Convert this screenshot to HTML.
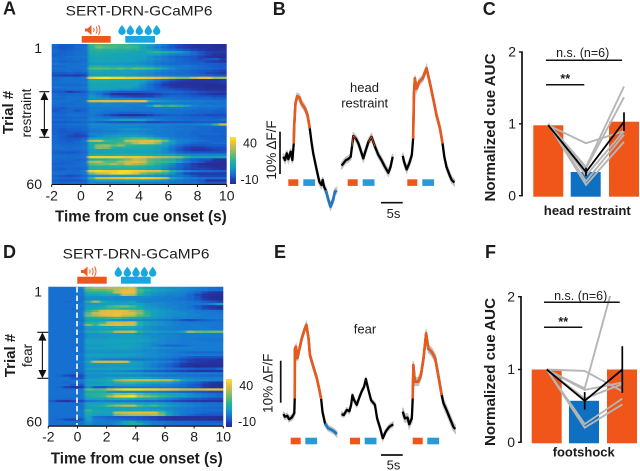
<!DOCTYPE html>
<html>
<head>
<meta charset="utf-8">
<title>SERT-DRN-GCaMP6 cue responses</title>
<style>
html,body{margin:0;padding:0;background:#fff;}
svg{display:block;font-family:"Liberation Sans",sans-serif;}
text{fill:#1c1c1c;}
.b{font-weight:bold;}
</style>
</head>
<body>
<svg id="fig" width="640" height="471" viewBox="0 0 640 471" xmlns="http://www.w3.org/2000/svg">
<defs>
<filter id="soft" x="-2%" y="-2%" width="104%" height="104%"><feGaussianBlur stdDeviation="1.4 0.3"/></filter>
<clipPath id="clipA"><rect x="51.7" y="44" width="175" height="140"/></clipPath>
<clipPath id="clipD"><rect x="48.3" y="286.7" width="175" height="138.6"/></clipPath>
<clipPath id="clipF"><rect x="525" y="296" width="115" height="150"/></clipPath>
<linearGradient id="cbar" x1="0" y1="1" x2="0" y2="0"></linearGradient>
</defs>

<g id="panelA">
<text class="b" x="3" y="14.500" font-size="18">A</text>
<text x="65.700" y="15.700" font-size="14" textLength="146.700" lengthAdjust="spacingAndGlyphs">SERT-DRN-GCaMP6</text>
<g id="heatA" clip-path="url(#clipA)"></g>
<path d="M85 28.500h2.500l4-3.500v10l-4-3.500H85z" fill="#ee5a24"/>
<path d="M93.500 28q1.300 2 0 4M96 26.500q2.200 3.500 0 7M98.500 25q3 5 0 10" fill="none" stroke="#ee5a24" stroke-width="1"/>
<rect x="81.700" y="36" width="29" height="6.700" fill="#f0561a"/>
<rect x="125.300" y="36" width="29.700" height="6.700" fill="#19a7df"/>
<g fill="#19a7df">
<path d="M122 25q-3.700 4.500-3.700 6.300a3.700 3.700 0 0 0 7.400 0q0-1.800-3.700-6.300z"/>
<path d="M130.300 25q-3.700 4.500-3.700 6.300a3.700 3.700 0 0 0 7.400 0q0-1.800-3.700-6.300z"/>
<path d="M139.300 25q-3.700 4.500-3.700 6.300a3.700 3.700 0 0 0 7.400 0q0-1.800-3.700-6.300z"/>
<path d="M148.300 25q-3.700 4.500-3.700 6.300a3.700 3.700 0 0 0 7.400 0q0-1.800-3.700-6.300z"/>
<path d="M156.700 25q-3.700 4.500-3.700 6.300a3.700 3.700 0 0 0 7.400 0q0-1.800-3.700-6.300z"/>
</g>
<text x="42" y="53" font-size="14" text-anchor="end">1</text>
<text x="42" y="189" font-size="14" text-anchor="end">60</text>
<text class="b" transform="translate(13,112.500) rotate(-90)" font-size="15" text-anchor="middle">Trial #</text>
<text transform="translate(31,113) rotate(-90)" font-size="13.500" text-anchor="middle">restraint</text>
<g>
<path d="M39.300 91.700h10M39.300 137.300h10M44.400 95v38" stroke="#111" stroke-width="1.100" fill="none"/>
<path d="M44.400 91.700l-4 8.300h8zM44.400 137.300l-4-8.300h8z" fill="#111"/>
</g>
<g id="axisA"></g>
<text class="b" x="55" y="221.700" font-size="15.500" textLength="171.700" lengthAdjust="spacingAndGlyphs">Time from cue onset (s)</text>
<rect x="230" y="137" width="6" height="47" fill="url(#cbar)"/>
<text x="243" y="147.500" font-size="12.500">40</text>
<text x="240.500" y="184" font-size="12.500">-10</text>
</g>

<g id="panelD">
<text class="b" x="3" y="258" font-size="18">D</text>
<text x="62.700" y="258.300" font-size="14" textLength="146.700" lengthAdjust="spacingAndGlyphs">SERT-DRN-GCaMP6</text>
<g id="heatD" clip-path="url(#clipD)"></g>
<line x1="77" y1="287" x2="77" y2="425" stroke="#fff" stroke-width="1.600" stroke-dasharray="5.500 3"/>
<path d="M81 270h2.500l4-3.500v10l-4-3.500H81z" fill="#ee5a24"/>
<path d="M89.500 269.500q1.300 2 0 4M92 268q2.200 3.500 0 7M94.500 266.500q3 5 0 10" fill="none" stroke="#ee5a24" stroke-width="1"/>
<rect x="77.300" y="276.700" width="29.400" height="7" fill="#f0561a"/>
<rect x="121" y="276.700" width="29.700" height="7" fill="#19a7df"/>
<g fill="#19a7df">
<path d="M118.300 266.700q-3.700 4.500-3.700 6.300a3.700 3.700 0 0 0 7.400 0q0-1.800-3.700-6.300z"/>
<path d="M127.300 266.700q-3.700 4.500-3.700 6.300a3.700 3.700 0 0 0 7.400 0q0-1.800-3.700-6.300z"/>
<path d="M136 266.700q-3.700 4.500-3.700 6.300a3.700 3.700 0 0 0 7.400 0q0-1.800-3.700-6.300z"/>
<path d="M144.300 266.700q-3.700 4.500-3.700 6.300a3.700 3.700 0 0 0 7.400 0q0-1.800-3.700-6.300z"/>
<path d="M152.700 266.700q-3.700 4.500-3.700 6.300a3.700 3.700 0 0 0 7.400 0q0-1.800-3.700-6.300z"/>
</g>
<text x="42" y="296.500" font-size="14" text-anchor="end">1</text>
<text x="42" y="426.500" font-size="14" text-anchor="end">60</text>
<text class="b" transform="translate(15,355.500) rotate(-90)" font-size="15" text-anchor="middle">Trial #</text>
<text transform="translate(32,355.500) rotate(-90)" font-size="13.500" text-anchor="middle">fear</text>
<g>
<path d="M37.300 332.300h11M37.300 378.300h11M42.400 336v38" stroke="#111" stroke-width="1.100" fill="none"/>
<path d="M42.400 332.300l-4 8.300h8zM42.400 378.300l-4-8.300h8z" fill="#111"/>
</g>
<g id="axisD"></g>
<text class="b" x="50.700" y="463.300" font-size="15.500" textLength="172" lengthAdjust="spacingAndGlyphs">Time from cue onset (s)</text>
<rect x="226" y="379" width="6" height="48" fill="url(#cbar)"/>
<text x="239.300" y="390" font-size="12.500">40</text>
<text x="238" y="426" font-size="12.500">-10</text>
</g>

<g id="panelB">
<text class="b" x="272.700" y="15" font-size="18">B</text>
<text x="364.500" y="92" font-size="13" text-anchor="middle">head</text>
<text x="364.700" y="107.700" font-size="13" text-anchor="middle">restraint</text>
<text transform="translate(276,150) rotate(-90)" font-size="13.500" text-anchor="middle">10% ΔF/F</text>
<line x1="280" y1="131.700" x2="280" y2="174" stroke="#111" stroke-width="1.700"/>
<line x1="381" y1="202.700" x2="402.700" y2="202.700" stroke="#111" stroke-width="1.700"/>
<text x="393.500" y="218" font-size="13" text-anchor="middle">5s</text>
<g id="tracesB"></g>
</g>

<g id="panelE">
<text class="b" x="274" y="258" font-size="18">E</text>
<text x="365" y="333.300" font-size="13" text-anchor="middle">fear</text>
<text transform="translate(272.700,383.300) rotate(-90)" font-size="13.500" text-anchor="middle">10% ΔF/F</text>
<line x1="280.700" y1="360.700" x2="280.700" y2="402.700" stroke="#111" stroke-width="1.700"/>
<line x1="381" y1="455" x2="402.700" y2="455" stroke="#111" stroke-width="1.700"/>
<text x="393.500" y="469.300" font-size="13" text-anchor="middle">5s</text>
<g id="tracesE"></g>
</g>

<g id="panelC">
<text class="b" x="482.700" y="15" font-size="18">C</text>
<text class="b" transform="translate(495,127.500) rotate(-90)" font-size="14.500" text-anchor="middle" textLength="148" lengthAdjust="spacingAndGlyphs">Normalized cue AUC</text>
<g id="barsC"></g>
<line x1="546" y1="60.300" x2="622" y2="60.300" stroke="#111" stroke-width="1.500"/>
<line x1="546" y1="84.700" x2="584.300" y2="84.700" stroke="#111" stroke-width="1.500"/>
<text x="582.700" y="57" font-size="12.500" text-anchor="middle">n.s. (n=6)</text>
<text x="565.300" y="83" font-size="12.500" text-anchor="middle" class="b">**</text>
<text class="b" x="587.300" y="215" font-size="13" text-anchor="middle" textLength="87" lengthAdjust="spacingAndGlyphs">head restraint</text>
</g>

<g id="panelF">
<text class="b" x="485" y="258" font-size="18">F</text>
<text class="b" transform="translate(495,372) rotate(-90)" font-size="14.500" text-anchor="middle" textLength="148" lengthAdjust="spacingAndGlyphs">Normalized cue AUC</text>
<g id="barsF"></g>
<line x1="544" y1="302.300" x2="619.700" y2="302.300" stroke="#111" stroke-width="1.500"/>
<line x1="544" y1="327.300" x2="582.300" y2="327.300" stroke="#111" stroke-width="1.500"/>
<text x="580.700" y="300" font-size="12.500" text-anchor="middle">n.s. (n=6)</text>
<text x="563.300" y="326" font-size="12.500" text-anchor="middle" class="b">**</text>
<text class="b" x="583.700" y="456.700" font-size="13" text-anchor="middle" textLength="62" lengthAdjust="spacingAndGlyphs">footshock</text>
</g>
</svg>

<script>
/* ---------- heatmap data: trials x 0.5 s time bins, values in colour-scale units ---------- */
const xTicks = [-2, 0, 2, 4, 6, 8, 10];
const binStarts = [-2,-1.5,-1,-0.5,0,0.5,1,1.5,2,2.5,3,3.5,4,4.5,5,5.5,6,6.5,7,7.5,8,8.5,9,9.5];
const heatA = [
[0,-2,-2,0,0,16,20,18,18,17,16,15,12,8,5,2,-2,-4,-6,-7,-8,-8,-8,-9],
[-1,-3,-2,0,1,15,23,19,19,16,18,16,10,6,3,0,-3,-5,-6,-7,-8,-8,-9,-9],
[0,-2,-1,0,1,14,15,14,14,13,13,13,11,8,6,3,1,-1,-3,-5,-6,-7,-8,-8],
[0,-1,0,1,1,12,13,12,12,11,11,10,9,13,15,13,10,7,4,0,-3,-5,-6,-6],
[-1,-1,0,1,1,11,11,11,10,10,9,9,9,9,8,6,4,3,2,0,-3,-5,-7,-8],
[0,0,1,1,2,10,11,10,10,9,9,8,8,6,4,2,0,-1,-2,-3,-5,-7,-8,-9],
[1,0,0,1,1,10,10,10,10,9,9,8,8,6,5,3,1,0,-1,-3,-4,-3,-2,-6],
[0,-1,0,0,1,9,9,9,9,8,8,7,6,5,3,2,1,0,-1,-2,-3,-5,-6,-7],
[2,1,1,1,2,7,7,7,7,7,6,6,5,4,2,1,0,0,0,-1,-1,-2,-2,-3],
[0,0,1,1,1,13,14,12,12,11,10,10,9,7,5,4,3,2,2,1,0,-1,-2,-3],
[1,1,1,1,2,18,20,19,17,20,17,21,19,18,14,8,5,3,2,1,0,0,-1,-2],
[0,0,1,0,1,11,11,10,10,9,8,8,7,6,5,3,2,1,0,-1,-2,-3,-4,-5],
[-2,-2,-1,-2,-1,9,9,9,8,8,8,7,6,5,3,2,1,0,0,-1,-2,-4,-5,-6],
[-4,-5,-5,-6,-5,8,8,8,8,8,7,7,6,5,4,3,2,1,1,0,0,-1,-2,-3],
[0,1,1,1,2,36,39,40,38,38,36,36,35,34,33,30,26,23,22,28,33,34,25,26],
[0,1,1,1,1,12,12,12,12,11,11,10,9,6,3,0,-3,-5,-6,-7,-7,-7,-7,-6],
[1,1,1,1,2,11,11,11,10,10,9,9,7,3,0,-4,-6,-7,-8,-8,-8,-8,-7,-6],
[0,0,0,0,1,10,10,10,10,9,9,8,5,1,-3,-6,-7,-8,-8,-8,-8,-9,-9,-8],
[2,1,1,1,2,10,10,10,9,9,9,7,4,1,-2,-4,-6,-7,-7,-8,-8,-9,-9,-9],
[0,0,1,1,1,8,8,8,7,6,6,5,3,1,-1,-2,-3,-4,-5,-6,-7,-8,-8,-8],
[-2,-3,-6,-4,-2,4,3,1,-1,-2,-2,-2,-2,-2,-1,0,0,-1,-2,-3,-4,-5,-5,-6],
[0,-1,0,0,0,5,2,-3,-7,-8,-8,-8,-7,-6,-5,-3,-2,-2,-3,-4,-5,-6,-7,-7],
[1,0,1,1,1,7,5,2,-2,-3,-4,-5,-5,-5,-3,-1,0,0,-1,-2,-3,-3,-4,-4],
[0,0,1,1,1,6,6,6,5,5,5,4,4,3,3,2,2,1,1,0,0,0,-1,-1],
[1,1,1,0,1,30,31,32,31,30,32,31,33,12,7,6,5,4,4,3,3,2,2,1],
[1,0,0,1,1,4,4,5,4,4,4,4,3,2,2,3,3,3,2,2,2,1,1,1],
[0,0,1,1,1,4,4,4,4,4,3,3,3,7,20,14,17,14,8,4,3,3,2,2],
[-1,-2,0,0,0,3,3,3,3,3,3,2,2,2,3,3,3,3,2,2,1,1,1,0],
[-3,-1,0,-3,-1,3,3,2,2,2,2,2,2,2,2,2,1,1,1,0,0,0,-1,-1],
[-1,-1,0,0,0,3,2,1,0,-1,-1,-1,0,0,1,1,1,1,0,0,-1,-1,-2,-2],
[0,0,1,1,1,2,0,-3,-5,-7,-8,-8,-7,-5,-3,-2,-1,-1,-2,-3,-3,-4,-4,-4],
[-1,-1,0,0,0,3,2,1,1,0,0,0,0,1,1,1,1,0,0,-1,-1,-1,-2,-2],
[0,0,0,1,1,4,4,5,7,9,10,10,8,5,3,2,1,1,0,0,0,0,0,1],
[-2,-2,-1,-1,0,1,0,-1,-2,-3,-3,-3,-3,-4,-4,-3,-3,-3,-3,-2,-2,-2,-2,-2],
[0,0,1,1,1,5,5,5,5,5,5,5,5,4,4,4,3,3,3,3,4,5,16,30],
[-1,-1,0,0,0,4,4,4,4,4,4,4,3,3,3,2,2,1,1,1,0,0,0,0],
[-1,-2,-1,-1,0,3,3,4,4,5,6,6,5,4,3,3,2,2,1,1,0,0,-1,-1],
[-1,-3,-2,-2,-1,2,3,3,3,4,4,4,4,3,3,2,2,1,1,0,0,0,-1,-1],
[-1,-2,-3,-4,-3,4,4,5,5,6,6,6,5,4,3,3,2,1,1,0,0,0,0,-1],
[0,-2,-4,-5,-4,3,5,6,7,8,8,8,7,6,4,3,2,1,1,0,-1,-1,-1,-2],
[0,-2,-3,-3,-1,8,9,10,11,14,18,20,20,16,12,7,4,3,2,1,0,-1,-1,-1],
[0,-1,-2,-1,2,26,28,16,15,15,28,30,32,33,30,21,8,4,3,2,1,0,-1,-1],
[0,-1,-1,0,1,12,13,14,15,18,20,27,33,31,24,11,7,4,2,0,-1,-1,0,0],
[1,0,0,0,1,12,24,26,20,24,15,14,13,13,11,8,4,1,-2,-3,-3,-2,-2,-2],
[1,1,0,1,2,11,24,22,14,13,13,12,12,11,9,6,2,-2,-5,-6,-6,-5,-4,-4],
[0,0,0,0,1,9,10,10,10,10,10,10,10,9,8,5,1,-3,-5,-7,-7,-6,-5,-4],
[-1,-2,-3,-2,0,8,8,8,9,9,9,9,9,8,7,5,3,0,-2,-3,-3,-3,-3,-3],
[0,0,0,0,1,12,13,13,13,14,14,14,13,12,11,9,8,6,5,4,4,4,4,4],
[1,1,0,1,2,36,37,36,36,36,34,35,34,32,28,26,24,22,14,10,9,8,8,9],
[0,0,0,-1,0,12,14,14,16,18,22,28,26,19,17,14,12,6,2,-1,-3,-3,-7,-8],
[0,-1,-1,0,1,26,28,20,20,26,30,33,30,20,17,16,14,8,3,-1,-3,-6,-8,-8],
[-1,-1,-1,0,1,20,22,22,26,22,30,26,24,18,14,10,5,0,-3,-6,-8,-9,-9,-9],
[0,0,0,0,1,13,14,14,15,15,15,15,14,12,9,6,3,0,-3,-5,-7,-8,-9,-8],
[-1,-2,-1,-1,0,12,13,13,13,13,13,12,11,10,8,5,1,-1,-4,-5,-5,-6,-7,-8],
[0,0,0,0,3,36,38,36,36,38,38,36,35,33,33,24,13,8,4,2,0,0,-1,-2],
[1,1,0,0,2,22,30,32,36,38,36,33,22,18,15,12,6,1,-4,-6,-6,-6,-6,-6],
[-1,-3,-4,-3,0,5,6,6,7,7,7,7,7,7,6,5,3,2,0,-3,-5,-5,-5,-5],
[0,-1,-1,0,2,16,30,30,32,33,34,34,36,35,33,28,10,6,3,2,1,0,0,0],
[-1,-3,-3,-3,-1,6,8,8,9,10,10,10,9,8,7,5,3,2,1,0,-2,-8,-8,-8],
[0,-1,0,0,0,5,4,4,4,4,5,5,4,4,3,3,2,2,1,1,-1,-3,-3,-3]
];
const heatD = [
[1,1,1,1,3,22,26,26,27,27,29,32,14,10,8,7,6,6,5,4,3,2,1,0],
[1,1,1,1,2,18,20,20,22,28,33,33,18,14,10,8,7,6,5,4,2,2,1,1],
[1,1,1,1,2,13,14,15,17,30,34,34,17,9,7,6,5,5,4,2,0,-4,-6,-7],
[1,1,1,1,2,10,10,11,11,12,30,28,13,8,6,5,4,4,3,0,-4,-7,-8,-8],
[1,1,1,1,1,6,6,6,6,5,5,5,5,5,4,4,3,3,2,0,-3,-7,-9,-9],
[1,1,1,1,1,5,5,5,5,5,5,5,5,4,4,3,3,2,1,0,-2,-6,-8,-9],
[1,1,0,1,1,14,26,12,8,7,7,8,5,4,4,4,3,3,3,2,1,-1,-3,-5],
[1,1,1,1,2,7,7,8,8,8,9,9,8,6,5,5,4,3,3,2,2,2,4,8],
[1,1,1,1,2,9,9,11,17,20,22,18,12,7,6,5,4,4,3,1,-2,-5,-7,-7],
[1,1,1,0,1,10,11,14,16,16,14,14,12,8,7,6,5,4,3,2,-1,-4,-6,-7],
[1,1,1,1,2,14,20,31,33,33,32,26,22,12,8,7,6,5,4,4,3,2,2,1],
[1,1,1,1,2,20,30,33,33,34,33,32,24,14,9,7,6,5,5,4,3,3,2,2],
[1,1,1,1,2,22,26,31,33,34,30,28,20,16,9,7,6,5,5,4,4,3,3,3],
[1,1,1,1,2,12,13,14,16,18,15,12,10,8,7,6,5,4,4,4,3,3,3,3],
[1,1,1,1,1,8,8,8,7,6,5,5,5,4,4,3,2,0,-3,-4,-3,-1,0,1],
[1,1,1,1,2,13,14,16,28,30,30,32,14,9,7,6,5,4,3,3,3,2,2,2],
[1,1,1,1,2,23,16,26,31,33,31,30,14,9,7,6,5,4,3,3,3,3,3,2],
[1,1,1,1,1,8,8,9,10,12,12,12,9,6,5,4,4,3,3,3,3,3,2,2],
[1,1,1,1,1,7,7,8,8,8,8,8,7,6,5,4,4,3,3,3,3,3,3,2],
[1,1,1,1,2,11,12,14,16,28,29,30,14,9,8,7,6,6,10,26,22,20,22,22],
[1,1,1,1,1,6,6,7,7,7,7,7,6,5,5,4,4,3,3,3,3,3,3,3],
[1,1,1,1,1,6,6,6,7,7,8,8,7,6,5,5,4,4,3,3,3,3,3,3],
[1,1,1,1,1,7,7,7,8,8,8,8,8,7,6,5,4,4,3,3,2,2,2,2],
[1,1,1,1,1,8,8,9,9,9,10,10,9,8,6,5,4,4,3,3,3,2,2,2],
[1,1,1,1,1,8,8,8,8,8,8,8,7,6,5,5,4,4,3,3,3,3,3,3],
[1,1,1,1,1,7,7,7,8,8,8,8,7,6,4,2,0,0,1,2,3,3,3,3],
[1,1,1,1,1,8,8,8,8,9,9,8,7,6,6,5,5,4,4,4,3,3,3,3],
[1,1,1,1,1,7,7,7,7,7,7,7,6,5,5,4,3,3,3,3,3,3,3,3],
[1,1,1,1,1,6,6,6,6,6,6,6,6,5,5,4,3,2,1,0,0,0,0,0],
[1,1,1,1,2,8,8,8,8,8,8,8,7,6,5,5,4,3,3,3,3,2,2,2],
[1,1,1,1,1,7,7,7,7,7,7,6,6,5,5,4,3,2,0,-2,-3,-3,-3,-3],
[1,1,1,1,1,6,5,3,2,2,2,2,2,2,2,1,0,-2,-4,-5,-6,-6,-6,-7],
[1,1,1,1,2,10,29,31,31,31,30,10,7,6,5,4,3,0,-3,-5,-6,-7,-8,-8],
[1,1,1,1,1,7,7,7,7,8,8,8,7,5,4,2,0,-3,-6,-8,-8,-8,-8,-8],
[1,1,1,1,1,6,6,6,7,7,7,7,6,5,3,1,-1,-4,-7,-8,-9,-9,-9,-8],
[1,1,1,1,1,8,8,8,8,9,9,9,8,6,5,4,2,1,0,-1,-2,-2,-2,0],
[1,1,1,1,1,5,5,5,5,5,4,3,2,0,-1,-2,-3,-4,-5,-6,-7,-7,-7,-7],
[1,1,1,0,0,7,7,7,8,8,8,8,7,6,6,5,4,4,3,3,3,3,2,2],
[1,0,-4,-5,-4,5,5,5,5,5,5,5,5,4,3,3,2,2,2,1,1,0,0,0],
[1,1,1,-2,-3,6,6,7,8,9,10,11,10,8,7,6,5,5,4,4,3,3,3,3],
[1,1,1,1,2,8,9,10,12,24,28,30,30,30,29,28,28,20,8,6,5,5,4,4],
[1,1,0,1,1,7,7,8,10,14,16,16,14,12,11,10,8,5,3,1,-1,-4,-6,-7],
[1,1,1,-2,-3,8,9,9,9,8,8,8,7,6,5,5,4,3,1,-1,-3,-6,-8,-8],
[1,0,-5,-7,-6,5,-2,-3,1,2,3,3,3,3,3,2,2,1,0,-2,-3,-6,-8,-8],
[1,1,1,1,2,20,18,20,30,36,40,40,40,38,38,36,35,34,30,30,31,33,34,34],
[1,1,1,1,2,12,12,13,6,5,5,5,5,4,4,3,2,1,0,-1,-2,-3,-4,-4],
[1,1,1,1,2,14,14,15,18,25,24,26,20,16,14,12,10,8,7,5,3,2,1,0],
[1,1,1,1,2,12,14,16,26,36,38,40,28,24,20,16,14,10,8,6,5,3,2,1],
[1,1,0,1,1,8,9,10,12,14,14,12,11,9,8,6,4,2,0,-1,-2,-3,-4,-4],
[-2,-6,-7,-5,-4,2,3,4,3,2,2,2,1,0,0,-1,-2,-4,-5,-6,-6,-7,-7,-7],
[1,1,1,1,1,8,9,9,10,11,11,10,9,8,8,7,6,5,4,3,2,1,1,1],
[1,1,1,1,1,10,11,13,20,24,27,28,18,14,17,12,8,6,5,4,3,2,1,1],
[1,1,1,1,1,8,8,8,8,8,9,9,8,7,6,6,5,4,3,2,1,0,0,0],
[1,1,1,1,2,16,10,8,8,8,9,10,10,9,9,8,6,4,3,2,1,1,1,1],
[1,1,1,1,2,12,10,10,10,28,30,32,33,33,32,20,8,5,3,2,1,0,-1,-1],
[1,1,1,1,2,12,8,7,7,22,24,26,26,25,27,22,9,5,2,0,-2,-3,-3,-3],
[1,1,1,1,1,8,1,0,-1,-2,-3,-3,-3,-4,-5,-6,-7,-8,-8,-8,-8,-8,-8,-8],
[1,-1,-4,-5,-3,8,3,2,1,1,0,-1,-2,-3,-4,-6,-7,-8,-8,-8,-8,-8,-9,-9],
[1,1,1,1,1,6,3,3,3,4,8,12,6,4,3,2,1,0,0,0,-1,-1,-1,-2],
[1,1,1,1,1,5,3,3,3,5,9,13,11,6,3,2,1,1,0,0,0,0,0,0]
];

/* ---------- photometry traces: time (s) from cue, dF/F (%) ---------- */
const b1Time = [-2.3,-1.9,-1.5,-1.15,-0.6,-0.2,0.1,0.2,0.5,0.9,1.4,1.9,2.7,3.3,3.8,4.2,4.6,5.4,6,6.5,6.8,7.1,7.5,8.1,8.6,9.2,9.6,10];
const b1Value = [0,-0.8,0.8,-0.6,1.2,-0.8,3.1,7.1,12.6,14.3,14,12.6,11.4,9.8,6.7,3.5,0.8,-3.1,-5.9,-6.7,-5.5,-7.1,-7.9,-10.2,-11.8,-10.2,-8.3,-8];
const b2Time = [-2.7,-2.3,-1.7,-1.2,-0.6,-0.3,0,0.6,1.2,1.8,2.3,2.9,3.5,4.2,5,5.8,6.5,7.3,8.1,8.6,9.1];
const b2Value = [-2.1,-1.6,-0.8,-0.6,0,2.4,4.9,4.3,3.1,1.2,-0.4,1.6,3.5,4.7,2.4,0.4,-0.8,-2.4,-3.8,-2.4,0];
const b3Time = [-2.3,-2,-1.4,-0.8,-0.2,0.1,0.3,0.5,0.9,1.5,2.3,3.2,4,4.8,5.5,6.3,6.9,7.3,7.8,8.5,9,9.6];
const b3Value = [0.2,-1.2,-3,-1.6,0.4,4.3,15,18.5,16.1,17.7,18.5,20.9,17.3,13.4,9.8,6.7,3.1,0,-2.4,-4.3,-5.5,-6.1];
const e1Time = [-2.5,-2.2,-1.6,-1.2,-0.6,0,0.1,0.15,0.4,0.7,1.2,1.7,2.3,2.8,3.3,3.6,4.4,5.2,5.8,6.2,6.5,7.1,7.8,8.6,9.2,9.8];
const e1Value = [0.2,-0.4,-0.2,-1,-0.6,0.4,3.9,15.7,16.1,13.4,15.7,18,20,21.3,18,14.2,11.4,8.7,5.9,3.8,0.8,-2,-3.1,-3.5,-3.9,-4.5];
const e2Time = [-2.7,-2.2,-1.5,-0.9,-0.5,-0.2,0.2,0.8,1.3,1.9,2.5,2.9,3.5,4.1,5,5.5,6.2,6.8,7.5,8.3,9.2];
const e2Value = [0.2,0,1.2,0.9,2.4,4.7,3.5,2.4,3.9,5.5,6.7,8.5,5.9,3.5,2.4,-0.8,-3.1,-5.5,-3.9,-2.8,-2.2];
const e3Time = [-2.3,-1.8,-1.2,-0.8,-0.2,0,0.15,0.5,1.3,1.9,2.5,3.1,3.6,4.4,5.2,5.9,6.7,7.1,7.8,8.6,9.4,9.8];
const e3Value = [0.8,-0.8,-0.6,-2.2,-0.8,3.9,11.8,7.9,7.9,9.4,13.4,19.3,15.7,14.9,13.4,9.4,4.7,2.8,1.2,-0.8,-2.8,-3.3];

/* ---------- normalized AUC: tone, water, late tone ---------- */
const conditions = ['cue-1', 'cue-2', 'cue-3'];
const cMeans = [0.98, 0.33, 1.03];
const cErrors = [0, 0.06, 0.13];
const cSubjects = [[1,0.15,0.75],[1,0.2,0.85],[1,0.38,1.37],[1,0.4,1.52],[0.98,0.73,0.9],[1,0.28,0.9]];
const fMeans = [1.0, 0.57, 1.0];
const fErrors = [0, 0.12, 0.32];
const fSubjects = [[1,0.98,0.7],[1,0.72,0.82],[1,0.2,0.52],[1,0.25,0.6],[1,0.74,2.62],[1,0.6,0.8]];
const aucTicks = [0, 1, 2];

const NS = 'http://www.w3.org/2000/svg';
function mk(tag, attrs, parent) {
  const el = document.createElementNS(NS, tag);
  for (const k in attrs) el.setAttribute(k, attrs[k]);
  parent.appendChild(el);
  return el;
}

/* colour scale */
const scaleStops = [[-10,[40,40,140]],[-6,[34,58,172]],[-2,[24,92,205]],[3,[24,124,210]],[8,[18,160,192]],[14,[37,176,154]],[20,[92,186,120]],[27,[176,188,88]],[33,[232,188,64]],[40,[251,232,24]]];
function colour(v) {
  const s = scaleStops;
  if (v <= s[0][0]) return 'rgb(' + s[0][1].join(',') + ')';
  for (let i = 1; i < s.length; i++) {
    if (v <= s[i][0]) {
      const f = (v - s[i-1][0]) / (s[i][0] - s[i-1][0]);
      const c = s[i-1][1].map((a, j) => Math.round(a + (s[i][1][j] - a) * f));
      return 'rgb(' + c.join(',') + ')';
    }
  }
  return 'rgb(' + s[s.length-1][1].join(',') + ')';
}
const grad = document.getElementById('cbar');
scaleStops.forEach(s => {
  mk('stop', {offset: ((s[0] + 10) / 50 * 100) + '%', 'stop-color': 'rgb(' + s[1].join(',') + ')'}, grad);
});

/* heatmaps */
function drawHeat(groupId, matrix, x0, x1, y0, y1, panel) {
  const g = document.getElementById(groupId);
  const inner = mk('g', {filter: 'url(#soft)'}, g);
  
  
  const sx = t => x0 + (t + 2) * (x1 - x0) / 12;
  const sy = r => y0 + r * (y1 - y0) / matrix.length;
  const bw = (x1 - x0) / 24;
  const bg = mk('rect', {x: x0 - 4, y: y0 - 2, width: x1 - x0 + 8, height: y1 - y0 + 4, fill: '#1a78d0'}, inner);
  
  
  matrix.forEach((row, r) => {
    row.forEach((v, c) => {
      const ext = c === 0 ? 4 : 0;
      const cell = mk('rect', {
        x: sx(binStarts[c]) - ext,
        y: sy(r),
        width: bw + 0.4 + ext + (c === row.length - 1 ? 4 : 0),
        height: (y1 - y0) / matrix.length + 0.3,
        fill: colour(v)
      }, inner);
      
      
    });
  });
}
drawHeat('heatA', heatA, 51.7, 226.7, 44, 184, 'a');
drawHeat('heatD', heatD, 48.3, 223.3, 286.7, 425.3, 'd');

/* heatmap time axes */
function drawTimeAxis(groupId, x0, x1, y, labelY, w) {
  const g = document.getElementById(groupId);
  const sx = t => x0 + (t + 2) * (x1 - x0) / 12;
  const ax = mk('line', {x1: x0, x2: x1, y1: y, y2: y, stroke: '#111', 'stroke-width': w}, g);
  
  
  xTicks.forEach(t => {
    const tk = mk('line', {x1: sx(t), x2: sx(t), y1: y, y2: y + 2.5, stroke: '#111', 'stroke-width': 1}, g);
    
    
    const lb = mk('text', {x: sx(t), y: labelY, 'font-size': 14, 'text-anchor': 'middle'}, g);
    
    
    lb.textContent = t;
  });
}
drawTimeAxis('axisA', 51.7, 226.7, 184.5, 200.5, 1);
drawTimeAxis('axisD', 48.3, 223.3, 426, 441.5, 1.6);

/* traces */
const PX_PER_S = 4.33, PX_PER_PCT = 4.23;
function drawTrace(groupId, times, values, originX, originY, sem, windows) {
  const g = document.getElementById(groupId);
  const sx = t => originX + t * PX_PER_S;
  const sy = v => originY - v * PX_PER_PCT;
  const upper = times.map((t, i) => sx(t) + ',' + sy(values[i] + sem));
  const lower = times.map((t, i) => sx(t) + ',' + sy(values[i] - sem)).reverse();
  const band = mk('polygon', {points: upper.concat(lower).join(' '), fill: '#b8b8b8', stroke: '#c4c4c4', 'stroke-width': 1.5}, g);
  
  
  const pts = times.map((t, i) => sx(t) + ',' + sy(values[i])).join(' ');
  const line = mk('polyline', {points: pts, fill: 'none', stroke: '#000', 'stroke-width': 2.3, 'stroke-linejoin': 'round'}, g);
  
  
  windows.forEach(w => {
    const seg = times.map((t, i) => [t, values[i]]).filter(p => p[0] >= w[0] && p[0] <= w[1]);
    const s = mk('polyline', {
      points: seg.map(p => sx(p[0]) + ',' + sy(p[1])).join(' '),
      fill: 'none', stroke: w[2], 'stroke-width': w[3], 'stroke-linejoin': 'round'
    }, g);
    
    
  });
}
const ORANGE = '#e8591c', BLUE = '#1f78c4';
drawTrace('tracesB', b1Time, b1Value, 293.3, 156.7, 0.7, [[0.1,3.8,ORANGE,2.6],[7.5,10,BLUE,2.6]]);
drawTrace('tracesB', b2Time, b2Value, 353.3, 156.7, 0.7, [[-0.3,0.6,ORANGE,0.8],[3.5,5,ORANGE,0.8]]);
drawTrace('tracesB', b3Time, b3Value, 412.7, 156.7, 0.7, [[0.1,6.9,ORANGE,2.6]]);
drawTrace('tracesE', e1Time, e1Value, 294.3, 415, 0.6, [[0.1,6.2,ORANGE,2.6],[7.1,9.8,BLUE,2.6]]);
drawTrace('tracesE', e2Time, e2Value, 353.3, 415, 0.5, []);
drawTrace('tracesE', e3Time, e3Value, 412.7, 415, 0.9, [[0,6.7,ORANGE,2.6]]);

/* cue timing squares under traces: tone and water markers */
const cueStartsB = [288.3, 347.7, 407.3];
const waterStartsB = [303.3, 362.7, 422.3];
const cueStartsE = [290.7, 350, 412.7];
const waterStartsE = [305.3, 364.7, 427.3];
function drawCues(groupId, tones, waters, y) {
  const g = document.getElementById(groupId);
  tones.forEach(x => {
    const r = mk('rect', {x: x, y: y, width: 10, height: 6.6, fill: '#f0561a'}, g);
    
    
  });
  waters.forEach(x => {
    const r = mk('rect', {x: x, y: y, width: 11.8, height: 6.6, fill: '#2a9ad6'}, g);
    
    
  });
}
drawCues('tracesB', cueStartsB, waterStartsB, 179.3);
drawCues('tracesE', cueStartsE, waterStartsE, 437.7);

/* bar charts */
function drawBars(groupId, means, errors, subjects, o) {
  const g = document.getElementById(groupId);
  const sy = v => o.y0 - v * (o.y0 - o.y2) / 2;
  const barColours = ['#f0561a', '#0f6fc0', '#f0561a'];
  means.forEach((m, i) => {
    const b = mk('rect', {x: o.bars[i], y: sy(m), width: 30, height: o.y0 + 1 - sy(m), fill: barColours[i]}, g);
    
    
  });
  const ax = mk('path', {d: 'M' + o.ax + ' ' + sy(2) + 'V' + sy(0), stroke: '#111', 'stroke-width': 1.7, fill: 'none'}, g);
  
  
  aucTicks.forEach(t => {
    const tk = mk('line', {x1: o.ax - 3, x2: o.ax + .8, y1: sy(t), y2: sy(t), stroke: '#111', 'stroke-width': 1.4}, g);
    
    
    const lb = mk('text', {x: o.ax - 6, y: sy(t) + 4.7, 'font-size': 14, 'text-anchor': 'end'}, g);
    
    
    lb.textContent = t;
  });
  const lines = mk('g', o.clip ? {'clip-path': o.clip} : {}, g);
  
  
  subjects.forEach(s => {
    const p = mk('polyline', {points: s.map((v, i) => o.xs[i] + ',' + sy(v)).join(' '), fill: 'none', stroke: '#b5b5b5', 'stroke-width': 1.9}, lines);
    
    
  });
  const mean = mk('polyline', {points: means.map((v, i) => o.xs[i] + ',' + sy(v)).join(' '), fill: 'none', stroke: '#000', 'stroke-width': 1.8}, g);
  
  
  errors.forEach((e, i) => {
    if (!e) return;
    const l = mk('line', {x1: o.xs[i], x2: o.xs[i], y1: sy(means[i] + e), y2: sy(means[i] - e), stroke: '#000', 'stroke-width': 1.7}, g);
    
    
  });
}
drawBars('barsC', cMeans, cErrors, cSubjects, {y0: 195.7, y2: 52, ax: 522, bars: [533.3, 570.7, 609], xs: [548.3, 586, 624]});
drawBars('barsF', fMeans, fErrors, fSubjects, {y0: 442.3, y2: 296.7, ax: 521, bars: [531.7, 569, 607], xs: [546.7, 584.7, 622.3], clip: 'url(#clipF)'});
</script>
</body>
</html>
